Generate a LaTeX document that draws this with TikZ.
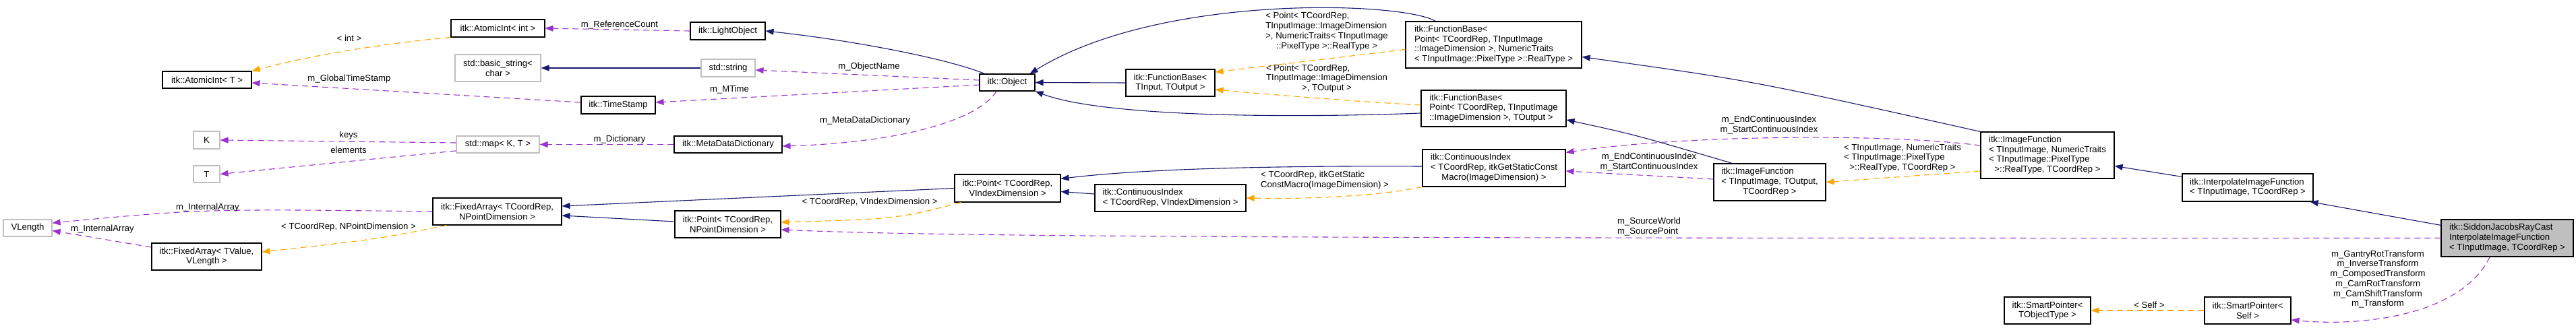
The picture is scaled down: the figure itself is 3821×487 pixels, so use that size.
\documentclass[tikz,border=0pt]{standalone}
\usepackage{fontspec}
\setmainfont{Liberation Sans}
\usetikzlibrary{arrows.meta}
\definecolor{navyc}{RGB}{25,25,112}
\definecolor{orangec}{RGB}{255,165,0}
\definecolor{purplec}{RGB}{154,50,205}
\definecolor{grayb}{RGB}{191,191,191}
\newcommand\nd[7]{\node[#6,minimum width={(#4-#2)*1bp},minimum height={(#5-#3)*1bp}] (#1) at ({(#2+#4)/2},{(#3+#5)/2}) {#7};}
\newcommand\Lt[1]{\begin{tabular}{@{}l@{}}#1\end{tabular}}
\newcommand\Ct[1]{\begin{tabular}{@{}c@{}}#1\end{tabular}}
\newcommand\mc[1]{\multicolumn{1}{@{}c@{}}{#1}}
\tikzset{
  cls/.style={draw=black, line width=1.1bp, inner sep=0pt, fill=white, align=center},
  ext/.style={draw=grayb, line width=1.1bp, inner sep=0pt, fill=white, align=center},
  mainc/.style={cls, fill=grayb},
  tipa/.style={-{Triangle[length=12bp,width=9bp]}},
  inh/.style={draw=navyc, line width=1.1bp, tipa},
  tpl/.style={draw=orangec, line width=1.1bp, dash pattern=on 9bp off 6bp, tipa},
  usec/.style={draw=purplec, line width=1.1bp, dash pattern=on 9bp off 6bp, tipa},
  lbl/.style={inner sep=0pt, align=center}
}
\begin{document}
\begin{tikzpicture}[x=1bp,y=-1bp,font=\fontsize{13.2}{14.8}\selectfont]
\useasboundingbox (0,0) rectangle (3821,487);
\fill[white] (0,0) rectangle (3821,487);
% nodes
\nd{atomT}{241}{106}{373}{131}{cls}{itk::AtomicInt< T >}
\nd{K}{287}{195}{326}{221}{ext}{K}
\nd{T}{287}{246}{326}{271}{ext}{T}
\nd{vlen}{5}{326}{77}{351}{ext}{VLength}
\nd{faTV}{225}{361}{388}{401}{cls}{itk::FixedArray< TValue,\\ VLength >}
\nd{faTC}{642}{294}{833}{334}{cls}{itk::FixedArray< TCoordRep,\\ NPointDimension >}
\nd{atomInt}{669}{29}{808}{55}{cls}{itk::AtomicInt< int >}
\nd{light}{1024}{33}{1135}{59}{cls}{itk::LightObject}
\nd{bstr}{675}{81}{802}{121}{ext}{std::basic\_string<\\ char >}
\nd{str}{1040}{88}{1120}{114}{ext}{std::string}
\nd{ts}{862}{143}{972}{169}{cls}{itk::TimeStamp}
\nd{map}{677}{202}{800}{227}{ext}{std::map< K, T >}
\nd{mdd}{1000}{202}{1160}{227}{cls}{itk::MetaDataDictionary}
\nd{ptN}{1001}{313}{1158}{353}{cls}{itk::Point< TCoordRep,\\ NPointDimension >}
\nd{obj}{1453}{110}{1535}{135}{cls}{itk::Object}
\nd{fbIO}{1670}{103}{1802}{143}{cls}{itk::FunctionBase<\\ TInput, TOutput >}
\nd{fbPN}{2085}{32}{2346}{101}{cls}{\Lt{itk::FunctionBase<\\ Point< TCoordRep, TInputImage\\::ImageDimension >, NumericTraits\\< TInputImage::PixelType >::RealType >}}
\nd{fbPO}{2108}{134}{2323}{188}{cls}{\Lt{itk::FunctionBase<\\ Point< TCoordRep, TInputImage\\ ::ImageDimension >, TOutput >}}
\nd{ciI}{2110}{222}{2322}{277}{cls}{\Lt{itk::ContinuousIndex\\< TCoordRep, itkGetStaticConst\\\mc{Macro(ImageDimension) >}}}
\nd{ptV}{1416}{259}{1573}{300}{cls}{itk::Point< TCoordRep,\\ VIndexDimension >}
\nd{ciV}{1624}{274}{1848}{314}{cls}{\Lt{itk::ContinuousIndex\\< TCoordRep, VIndexDimension >}}
\nd{ifO}{2542}{243}{2708}{298}{cls}{\Lt{itk::ImageFunction\\< TInputImage, TOutput,\\\mc{TCoordRep >}}}
\nd{ifN}{2938}{196}{3136}{265}{cls}{\Lt{itk::ImageFunction\\< TInputImage, NumericTraits\\< TInputImage::PixelType\\\mc{>::RealType, TCoordRep >}}}
\nd{spT}{2973}{441}{3101}{481}{cls}{itk::SmartPointer<\\ TObjectType >}
\nd{interp}{3237}{258}{3431}{299}{cls}{\Lt{itk::InterpolateImageFunction\\< TInputImage, TCoordRep >}}
\nd{sidd}{3621}{326}{3817}{381}{mainc}{\Lt{itk::SiddonJacobsRayCast\\InterpolateImageFunction\\< TInputImage, TCoordRep >}}
\nd{spS}{3270}{441}{3398}{481}{cls}{itk::SmartPointer<\\ Self >}
% inheritance
\draw[inh] ([xshift=8]obj.north west) .. controls (1400,85) and (1250,58) .. (light.east);
\draw[inh] (str.west) -- (bstr.east);
\draw[inh] (fbIO.west) -- (obj.east);
\draw[inh] ([xshift=45]fbPN.north west) .. controls (2080,2) and (1720,-10) .. ([xshift=-8]obj.north east);
\draw[inh] ([yshift=-7]fbPO.west) .. controls (1930,175) and (1640,175) .. (obj.south east);
\draw[inh] (ifN.north west) .. controls (2600,120) .. ([yshift=-18]fbPN.east);
\draw[inh] ([xshift=28]ifO.north west) .. controls (2425,200) .. ([yshift=-17]fbPO.east);
\draw[inh] ([yshift=-5]interp.north west) -- ([yshift=-16]ifN.east);
\draw[inh] ([yshift=-9]sidd.north west) -- ([xshift=-5]interp.south east);
\draw[inh] ([yshift=2.5]ciI.west) .. controls (1900,246) and (1700,250) .. ([yshift=-7]ptV.north east);
\draw[inh] ([yshift=6]ciV.west) -- ([yshift=-5]ptV.east);
\draw[inh] (ptV.west) -- ([yshift=8]faTC.east);
\draw[inh] ([yshift=4]ptN.west) -- ([yshift=-6]faTC.east);
% template instances
\draw[tpl] (atomInt.south west) .. controls (560,65) and (450,85) .. (atomT.north east);
\draw[tpl] ([yshift=-7]fbPN.west) -- ([yshift=16]fbIO.east);
\draw[tpl] ([yshift=5]fbPO.west) .. controls (2000,150) and (1880,140) .. ([yshift=-10]fbIO.east);
\draw[tpl] (ciI.south west) .. controls (2050,290) and (1950,296) .. (ciV.east);
\draw[tpl] ([xshift=10]ptV.south west) .. controls (1330,325) .. ([yshift=3]ptN.east);
\draw[tpl] ([xshift=21]faTC.south west) .. controls (560,355) .. ([yshift=7]faTV.east);
\draw[tpl] ([yshift=-23.5]ifN.west) -- (ifO.east);
\draw[tpl] (spS.west) -- (spT.east);
% usage
\draw[usec] (light.west) -- (atomInt.east);
\draw[usec] ([yshift=3.5]obj.west) -- ([yshift=-3]str.east);
\draw[usec] ([yshift=-3.5]obj.west) -- ([yshift=4]ts.east);
\draw[usec] ([yshift=4]ts.west) -- ([yshift=-4.5]atomT.east);
\draw[usec] ([xshift=-16]obj.south) .. controls (1450,180) and (1330,212) .. ([yshift=-2.5]mdd.east);
\draw[usec] (mdd.west) -- (map.east);
\draw[usec] ([yshift=2.5]map.west) -- (K.east);
\draw[usec] ([yshift=-9.5]map.west) -- (T.east);
\draw[usec] (faTC.west) .. controls (300,310) .. ([yshift=7.5]vlen.east);
\draw[usec] ([yshift=14]faTV.west) -- ([yshift=-4]vlen.east);
\draw[usec] ([yshift=14.5]ifN.west) .. controls (2800,198) and (2500,200) .. ([yshift=-5]ciI.north east);
\draw[usec] ([yshift=4.5]ifO.west) -- ([yshift=-4.5]ciI.east);
\draw[usec] (sidd.west) .. controls (2000,354) and (1400,352) .. ([yshift=-8]ptN.east);
\draw[usec] ([xshift=-26]sidd.south) .. controls (3650,470) and (3500,485) .. ([yshift=-14]spS.east);
% labels
\node[lbl] (l1) at (518,57) {< int >};
\node[lbl] (l2) at (518,117) {m\_GlobalTimeStamp};
\node[lbl] (l3) at (517,201) {keys};
\node[lbl] (l4) at (517,223) {elements};
\node[lbl] (l5) at (308,308) {m\_InternalArray};
\node[lbl] (l6) at (152,340) {m\_InternalArray};
\node[lbl] (l7) at (517,337) {< TCoordRep, NPointDimension >};
\node[lbl] (l8) at (919,37) {m\_ReferenceCount};
\node[lbl] (l9) at (1289,99) {m\_ObjectName};
\node[lbl] (l10) at (1082,133) {m\_MTime};
\node[lbl] (l11) at (1283,179) {m\_MetaDataDictionary};
\node[lbl] (l12) at (919,207) {m\_Dictionary};
\node[lbl] (l13) at (1290,300) {< TCoordRep, VIndexDimension >};
\node[lbl] (l14) at (1968,47) {\Lt{< Point< TCoordRep,\\TInputImage::ImageDimension\\>, NumericTraits< TInputImage\\\mc{::PixelType >::RealType >}}};
\node[lbl] (l15) at (1968,117) {\Lt{< Point< TCoordRep,\\TInputImage::ImageDimension\\\mc{>, TOutput >}}};
\node[lbl] (l16) at (1965,268) {\Lt{< TCoordRep, itkGetStatic\\ConstMacro(ImageDimension) >}};
\node[lbl] (l17) at (2446,241) {\Ct{m\_EndContinuousIndex\\m\_StartContinuousIndex}};
\node[lbl] (l18) at (2624,186) {\Ct{m\_EndContinuousIndex\\m\_StartContinuousIndex}};
\node[lbl] (l19) at (2822,235) {\Lt{< TInputImage, NumericTraits\\< TInputImage::PixelType\\\mc{>::RealType, TCoordRep >}}};
\node[lbl] (l20) at (2446,337) {\Lt{m\_SourceWorld\\m\_SourcePoint}};
\node[lbl] (l21) at (3188,453) {< Self >};
\node[lbl] (l22) at (3527,415) {\Ct{m\_GantryRotTransform\\m\_InverseTransform\\m\_ComposedTransform\\m\_CamRotTransform\\m\_CamShiftTransform\\m\_Transform}};
\end{tikzpicture}
\end{document}
